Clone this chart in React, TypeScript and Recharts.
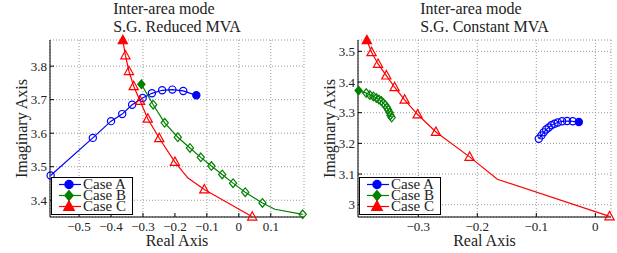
import { CartesianGrid, Scatter, ScatterChart, XAxis, YAxis } from 'recharts';

const BLUE = '#0000ff';
const GREEN = '#008000';
const RED = '#ff0000';
const FONT = '"Liberation Serif", "Times New Roman", serif';

// m: 's' = filled start marker, 'o' = open marker, 'n' = no marker (line vertex only)
type Pt = { x: number; y: number; m: 's' | 'o' | 'n' };

const reducedA: Pt[] = [
  { x: -0.133, y: 3.713, m: 's' },
  { x: -0.174, y: 3.726, m: 'o' },
  { x: -0.208, y: 3.73, m: 'o' },
  { x: -0.24, y: 3.728, m: 'o' },
  { x: -0.272, y: 3.719, m: 'o' },
  { x: -0.301, y: 3.705, m: 'o' },
  { x: -0.334, y: 3.685, m: 'o' },
  { x: -0.365, y: 3.657, m: 'o' },
  { x: -0.4, y: 3.636, m: 'o' },
  { x: -0.457, y: 3.586, m: 'o' },
  { x: -0.589, y: 3.474, m: 'o' },
];

const reducedB: Pt[] = [
  { x: -0.305, y: 3.746, m: 's' },
  { x: -0.268, y: 3.685, m: 'o' },
  { x: -0.232, y: 3.631, m: 'o' },
  { x: -0.191, y: 3.588, m: 'o' },
  { x: -0.153, y: 3.556, m: 'o' },
  { x: -0.119, y: 3.528, m: 'o' },
  { x: -0.086, y: 3.502, m: 'o' },
  { x: -0.052, y: 3.477, m: 'o' },
  { x: -0.018, y: 3.451, m: 'o' },
  { x: 0.02, y: 3.424, m: 'o' },
  { x: 0.074, y: 3.392, m: 'o' },
  { x: 0.113, y: 3.373, m: 'n' },
  { x: 0.2, y: 3.358, m: 'o' },
];

const reducedC: Pt[] = [
  { x: -0.363, y: 3.877, m: 's' },
  { x: -0.355, y: 3.832, m: 'o' },
  { x: -0.344, y: 3.785, m: 'o' },
  { x: -0.329, y: 3.74, m: 'o' },
  { x: -0.309, y: 3.696, m: 'o' },
  { x: -0.285, y: 3.643, m: 'o' },
  { x: -0.249, y: 3.585, m: 'o' },
  { x: -0.2, y: 3.514, m: 'o' },
  { x: -0.159, y: 3.466, m: 'n' },
  { x: -0.108, y: 3.432, m: 'o' },
  { x: 0.042, y: 3.351, m: 'o' },
];

const constA: Pt[] = [
  { x: -0.028, y: 3.2695, m: 's' },
  { x: -0.0383, y: 3.272, m: 'o' },
  { x: -0.0479, y: 3.273, m: 'o' },
  { x: -0.0563, y: 3.272, m: 'o' },
  { x: -0.0637, y: 3.268, m: 'o' },
  { x: -0.0693, y: 3.264, m: 'o' },
  { x: -0.0744, y: 3.259, m: 'o' },
  { x: -0.079, y: 3.252, m: 'o' },
  { x: -0.0834, y: 3.245, m: 'o' },
  { x: -0.0874, y: 3.236, m: 'o' },
  { x: -0.0913, y: 3.226, m: 'o' },
  { x: -0.0958, y: 3.215, m: 'o' },
];

const constB: Pt[] = [
  { x: -0.401, y: 3.372, m: 's' },
  { x: -0.388, y: 3.364, m: 'o' },
  { x: -0.382, y: 3.358, m: 'o' },
  { x: -0.376, y: 3.353, m: 'o' },
  { x: -0.371, y: 3.348, m: 'o' },
  { x: -0.3666, y: 3.343, m: 'o' },
  { x: -0.3626, y: 3.338, m: 'o' },
  { x: -0.359, y: 3.331, m: 'o' },
  { x: -0.356, y: 3.325, m: 'o' },
  { x: -0.353, y: 3.317, m: 'o' },
  { x: -0.351, y: 3.31, m: 'o' },
  { x: -0.3485, y: 3.301, m: 'o' },
  { x: -0.347, y: 3.292, m: 'o' },
  { x: -0.345, y: 3.284, m: 'o' },
];

const constC: Pt[] = [
  { x: -0.387, y: 3.536, m: 's' },
  { x: -0.379, y: 3.497, m: 'o' },
  { x: -0.368, y: 3.459, m: 'o' },
  { x: -0.354, y: 3.421, m: 'o' },
  { x: -0.34, y: 3.383, m: 'o' },
  { x: -0.323, y: 3.342, m: 'o' },
  { x: -0.301, y: 3.294, m: 'o' },
  { x: -0.27, y: 3.237, m: 'o' },
  { x: -0.213, y: 3.156, m: 'o' },
  { x: -0.166, y: 3.083, m: 'n' },
  { x: 0.024, y: 2.962, m: 'o' },
];

const reducedXTicks = [-0.5, -0.4, -0.3, -0.2, -0.1, 0, 0.1];
const reducedYTicks = [3.4, 3.5, 3.6, 3.7, 3.8];
const constXTicks = [-0.3, -0.2, -0.1, 0];
const constYTicks = [3, 3.1, 3.2, 3.3, 3.4, 3.5];

const reducedXDomain: [number, number] = [-0.591, 0.204];
const reducedYDomain: [number, number] = [3.35, 3.878];
const constXDomain: [number, number] = [-0.402, 0.0265];
const constYDomain: [number, number] = [2.96, 3.537];

const CASES = [
  { name: 'Case A', color: BLUE, kind: 'circle' },
  { name: 'Case B', color: GREEN, kind: 'diamond' },
  { name: 'Case C', color: RED, kind: 'triangle' },
] as const;

type Kind = (typeof CASES)[number]['kind'];

function fmt(v: number): string {
  return v < 0 ? `\u2212${Math.abs(v)}` : `${v}`;
}

function Glyph({
  cx,
  cy,
  kind,
  color,
  filled,
  s = 1,
}: {
  cx: number;
  cy: number;
  kind: Kind;
  color: string;
  filled: boolean;
  s?: number;
}) {
  const fill = filled ? color : 'none';
  if (kind === 'circle') {
    return <circle cx={cx} cy={cy} r={3.6 * s} fill={fill} stroke={color} strokeWidth={1.2} />;
  }
  if (kind === 'diamond') {
    const pts = `${cx},${cy - 4.3 * s} ${cx + 3.6 * s},${cy} ${cx},${cy + 4.3 * s} ${cx - 3.6 * s},${cy}`;
    return <polygon points={pts} fill={fill} stroke={color} strokeWidth={1.2} />;
  }
  const pts = `${cx},${cy - 5 * s} ${cx + 4.6 * s},${cy + 3.4 * s} ${cx - 4.6 * s},${cy + 3.4 * s}`;
  return <polygon points={pts} fill={fill} stroke={color} strokeWidth={1.2} />;
}

function markerShape(kind: Kind, color: string) {
  return (p: any) => {
    const m = p?.payload?.m;
    if (m === 'n' || p.cx == null) return <g />;
    return <Glyph cx={p.cx} cy={p.cy} kind={kind} color={color} filled={m === 's'} />;
  };
}

function Legend() {
  return (
    <div
      style={{
        position: 'absolute',
        left: 51,
        top: 177,
        width: 80,
        height: 35,
        border: '1px solid #000',
        background: '#fff',
        fontFamily: FONT,
        fontSize: 15,
        color: '#222',
        paddingTop: 1,
        boxSizing: 'content-box',
      }}
    >
      {CASES.map((c) => (
        <div key={c.name} style={{ display: 'flex', alignItems: 'center', height: 11 }}>
          <svg width={31} height={11} style={{ display: 'block', overflow: 'visible', flex: 'none' }}>
            <line x1={7} x2={29} y1={5.5} y2={5.5} stroke={c.color} strokeWidth={1.2} />
            <Glyph cx={17} cy={5.5} kind={c.kind} color={c.color} filled s={1.15} />
          </svg>
          <span style={{ lineHeight: '11px', whiteSpace: 'nowrap' }}>{c.name}</span>
        </div>
      ))}
    </div>
  );
}

interface PanelProps {
  left: number;
  width: number;
  subtitle: string;
  series: Pt[][];
  xDomain: [number, number];
  yDomain: [number, number];
  xTicks: number[];
  yTicks: number[];
}

function Panel({ left, width, subtitle, series, xDomain, yDomain, xTicks, yTicks }: PanelProps) {
  const plotCenter = 50 + (width - 56) / 2;
  const tick = { fontSize: 13, fill: '#222', fontFamily: FONT };
  return (
    <div style={{ position: 'absolute', left, top: 0, width, height: 253 }}>
      <div
        style={{
          position: 'absolute',
          left: plotCenter,
          top: 0,
          transform: 'translateX(-50%)',
          fontFamily: FONT,
          fontSize: 16,
          lineHeight: '17.5px',
          color: '#222',
          whiteSpace: 'nowrap',
          textAlign: 'left',
        }}
      >
        <div>Inter-area mode</div>
        <div>{subtitle}</div>
      </div>
      <ScatterChart width={width} height={253} margin={{ top: 40, right: 6, bottom: 0, left: 0 }}>
        <CartesianGrid stroke="#999" strokeDasharray="1 2" />
        <XAxis
          type="number"
          dataKey="x"
          domain={xDomain}
          ticks={xTicks}
          tickFormatter={fmt}
          height={36}
          stroke="#000"
          tickSize={-4}
          tickMargin={9}
          tick={tick}
          label={{ value: 'Real Axis', position: 'insideBottom', offset: 7, fontSize: 16, fill: '#222', fontFamily: FONT }}
        />
        <YAxis
          type="number"
          dataKey="y"
          domain={yDomain}
          ticks={yTicks}
          tickFormatter={fmt}
          width={50}
          stroke="#000"
          tickSize={-4}
          tickMargin={7}
          tick={tick}
          label={{
            value: 'Imaginary Axis',
            angle: -90,
            position: 'insideLeft',
            offset: 21,
            fontSize: 16,
            fill: '#222',
            fontFamily: FONT,
            style: { textAnchor: 'middle' },
          }}
        />
        <XAxis
          xAxisId="top"
          orientation="top"
          type="number"
          domain={xDomain}
          ticks={xTicks}
          height={0}
          stroke="#000"
          tickSize={-4}
          tick={false}
        />
        <YAxis
          yAxisId="right"
          orientation="right"
          type="number"
          domain={yDomain}
          ticks={yTicks}
          width={0}
          stroke="#000"
          tickSize={-4}
          tick={false}
        />
        {series.map((pts, i) => (
          <Scatter
            key={CASES[i].name}
            data={pts}
            fill={CASES[i].color}
            line={{ stroke: CASES[i].color, strokeWidth: 1.2 }}
            lineType="joint"
            shape={markerShape(CASES[i].kind, CASES[i].color)}
            isAnimationActive={false}
          />
        ))}
      </ScatterChart>
      <Legend />
    </div>
  );
}

export default function App() {
  return (
    <div style={{ position: 'absolute', left: 0, top: 0, width: 617, height: 253, background: '#fff' }}>
      <Panel
        left={0}
        width={310}
        subtitle="S.G. Reduced MVA"
        series={[reducedA, reducedB, reducedC]}
        xDomain={reducedXDomain}
        yDomain={reducedYDomain}
        xTicks={reducedXTicks}
        yTicks={reducedYTicks}
      />
      <Panel
        left={308}
        width={309}
        subtitle="S.G. Constant MVA"
        series={[constA, constB, constC]}
        xDomain={constXDomain}
        yDomain={constYDomain}
        xTicks={constXTicks}
        yTicks={constYTicks}
      />
    </div>
  );
}
